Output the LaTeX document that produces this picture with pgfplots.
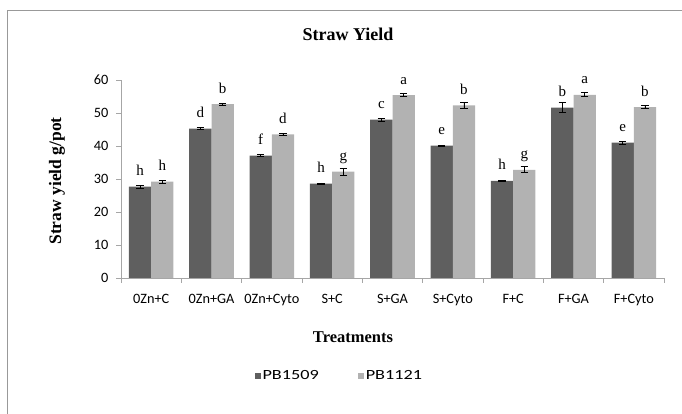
\documentclass[border=0pt]{standalone}
\usepackage{pgfplots}
\pgfplotsset{compat=1.18}
\usepackage{pgfplotstable}
\usepackage{fontspec}
\setmainfont{Liberation Serif}
\newfontfamily\calibri{Carlito}
\newfontfamily\calibriwide[FakeStretch=1.3]{Carlito}
\definecolor{darkbar}{HTML}{5F5F5F}
\definecolor{lightbar}{HTML}{B2B2B2}
\definecolor{axgray}{HTML}{A6A6A6}
\pgfplotstableread{
x y e l
0 27.7 0.4 h
1 45.3 0.2 d
2 37.1 0.4 f
3 28.6 0.2 h
4 48.0 0.4 c
5 40.1 0.1 e
6 29.4 0.2 h
7 51.6 1.5 b
8 41.0 0.5 e
}\dataA
\pgfplotstableread{
x y e l
0 29.2 0.4 h
1 52.7 0.3 b
2 43.5 0.2 d
3 32.2 1.1 g
4 55.4 0.5 a
5 52.3 1.0 b
6 32.8 0.9 g
7 55.5 0.6 a
8 51.8 0.5 b
}\dataB
\begin{document}
\begin{tikzpicture}[x=1pt,y=1pt]
\path[use as bounding box] (0,0) rectangle (682,414);
\draw[gray!80, line width=0.8pt] (7,0) -- (7,404) -- (682,404);
\node[anchor=base, font=\bfseries\fontsize{18}{18}\selectfont] at (348,373) {Straw Yield};
\node[rotate=90, font=\bfseries\fontsize{17.5}{17.5}\selectfont] at (57,233) {Straw yield g/pot};
\node[anchor=base, font=\bfseries\fontsize{16.5}{16.5}\selectfont] at (353,71) {Treatments};
\begin{axis}[at={(121pt,136pt)}, anchor=south west, scale only axis,
  width=543pt, height=198pt,
  xmin=-0.5, xmax=8.5, ymin=0, ymax=60,
  ybar=0pt, bar width=22.3pt,
  axis x line*=bottom, axis y line*=left,
  axis line style={axgray, line width=0.8pt, -},
  xtick={0,...,8},
  xticklabels={0Zn+C,0Zn+GA,0Zn+Cyto,S+C,S+GA,S+Cyto,F+C,F+GA,F+Cyto},
  major x tick style={draw=none},
  minor xtick={-0.5,0.5,...,8.5},
  minor tick length=5pt,
  major tick length=5pt,
  tick align=outside,
  ytick={0,10,...,60},
  tick style={axgray, line width=0.8pt},
  tick label style={font=\calibri\fontsize{14.3}{14.3}\selectfont, /pgf/number format/assume math mode=true},
  xticklabel style={yshift=-8pt},
  yticklabel style={xshift=-4pt},
  nodes near coords,
  point meta=explicit symbolic,
  every node near coord/.append style={anchor=base, yshift=11pt, font=\fontsize{15}{15}\selectfont, text=black},
  legend style={at={(0.402,-0.495)}, anchor=center, draw=none, fill=none, legend columns=2,
    font=\calibriwide\fontsize{14}{14}\selectfont,
    /tikz/every odd column/.append style={column sep=0pt},
    /tikz/every even column/.append style={column sep=38pt},
    nodes={inner xsep=1.5pt}},
]
\addplot[fill=darkbar, draw=none,
  legend image code/.code={\fill[darkbar] (0pt,-3pt) rectangle (6pt,3pt);},
  error bars/.cd, y dir=both, y explicit,
  error bar style={black, line width=0.8pt},
  error mark options={black, rotate=90, mark size=3.8pt, line width=0.8pt}]
  table[x=x, y=y, y error=e, meta=l] {\dataA};
\addlegendentry{PB1509}
\addplot[fill=lightbar, draw=none,
  legend image code/.code={\fill[lightbar] (0pt,-3pt) rectangle (6pt,3pt);},
  error bars/.cd, y dir=both, y explicit,
  error bar style={black, line width=0.8pt},
  error mark options={black, rotate=90, mark size=3.8pt, line width=0.8pt}]
  table[x=x, y=y, y error=e, meta=l] {\dataB};
\addlegendentry{PB1121}
\end{axis}
\end{tikzpicture}
\end{document}
